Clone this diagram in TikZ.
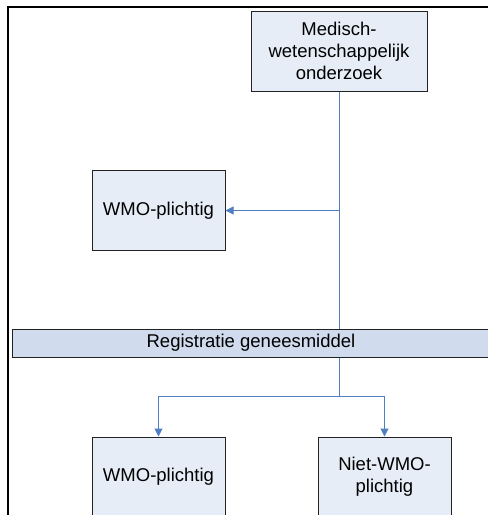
\documentclass[tikz,border=0pt]{standalone}
\usepackage{fontspec}
\setmainfont{Liberation Sans}
\usetikzlibrary{arrows.meta}
\definecolor{boxfill}{HTML}{E7EDF7}
\definecolor{barfill}{HTML}{D0DBEE}
\definecolor{linkblue}{HTML}{4F7FC2}
\definecolor{edge}{HTML}{222222}
\begin{document}
\begin{tikzpicture}[x=1pt,y=-1pt,
  box/.style={draw=edge,line width=1pt,fill=boxfill,minimum height=80pt,
    inner sep=0pt,align=center,font=\fontsize{18.5}{22}\selectfont},
  narrow/.style={box,text width=133pt},
  wide/.style={box,text width=176pt},
  barbox/.style={draw=edge,line width=1pt,fill=barfill,minimum width=478pt,minimum height=28pt,
    inner sep=0pt,font=\fontsize{18.5}{22}\selectfont},
  link/.style={draw=linkblue,line width=1pt},
  arr/.style={link,-{Triangle[length=8pt,width=8pt]}}]
\useasboundingbox (0,0) rectangle (488,515);
\fill[white] (0,0) rectangle (488,515);
% frame
\draw[line width=2pt] (8,515) -- (8,7) -- (489,7);
% nodes
\node[wide] (top) at (339,51) {Medisch-\\wetenschappelijk\\onderzoek};
\node[narrow] (wmo1) at (158.5,210.5) {WMO-plichtig};
\node[barbox] (bar) at (251,343) {Registratie geneesmiddel};
\node[narrow] (wmo2) at (158.5,477) {WMO-plichtig};
\node[narrow] (niet) at (384.5,477) {Niet-WMO-\\plichtig};
\coordinate (split) at (339,396);
% connectors
\draw[link] (top.south) -- (top.south |- bar.north);
\draw[arr] (top.south |- wmo1.east) -- (wmo1.east);
\draw[link] (split |- bar.south) -- (split);
\draw[arr] (split) -| (wmo2.north);
\draw[arr] (split) -| (niet.north);
\end{tikzpicture}
\end{document}
